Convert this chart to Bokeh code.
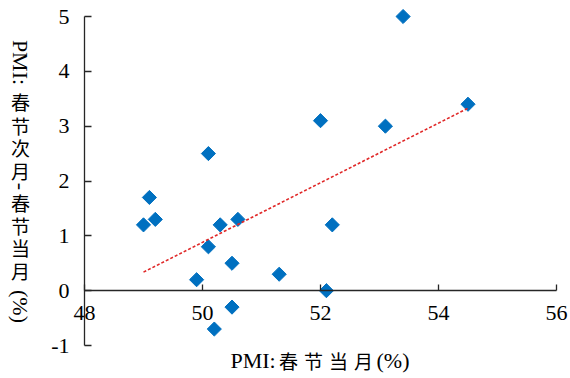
import numpy as np
from bokeh.plotting import figure
from bokeh.models import Label, Range1d, FixedTicker
from bokeh.embed import file_html
from bokeh.resources import INLINE

# ---- data ----
pmi_current = [49.0, 49.1, 49.2, 49.9, 50.1, 50.1, 50.2, 50.3, 50.5, 50.5,
               50.6, 51.3, 52.0, 52.1, 52.2, 53.1, 53.4, 54.5]
pmi_change = [1.2, 1.7, 1.3, 0.2, 2.5, 0.8, -0.7, 1.2, 0.5, -0.3,
              1.3, 0.3, 3.1, 0.0, 1.2, 3.0, 5.0, 3.4]
x_ticks = [48, 50, 52, 54, 56]
y_ticks = [-1, 0, 1, 2, 3, 4, 5]
x_title = ["PMI:", "春", "节", "当", "月", "(%)"]
y_title = ["PMI:", "春", "节", "次", "月", "-", "春", "节", "当", "月", "(%)"]

# ---- layout (pixels) ----
W, H = 570, 378
AX_LEFT, AX_RIGHT = 84, 556      # pixel of x = 48 and x = 56
AX_TOP, AX_BOTTOM = 16, 345      # pixel of y = 5 and y = -1
XMIN, XMAX = x_ticks[0], x_ticks[-1]
YMIN, YMAX = y_ticks[0], y_ticks[-1]
xs = (AX_RIGHT - AX_LEFT) / (XMAX - XMIN)
ys = (AX_BOTTOM - AX_TOP) / (YMAX - YMIN)
x0 = XMIN - AX_LEFT / xs
y1 = YMAX + AX_TOP / ys

SERIF = "Liberation Serif"
CJK = "Noto Sans CJK SC"
AXIS_COLOR = "#262626"

p = figure(width=W, height=H, min_border=0,
           x_range=Range1d(x0, x0 + W / xs), y_range=Range1d(y1 - H / ys, y1),
           output_backend="svg", toolbar_location=None)
p.outline_line_color = None
p.xgrid.grid_line_color = None
p.ygrid.grid_line_color = None
p.background_fill_color = "white"
p.border_fill_color = "white"

# x axis sits on y = 0, spanning 48..56
xa = p.xaxis[0]
xa.fixed_location = 0
xa.bounds = (XMIN, XMAX)
xa.ticker = FixedTicker(ticks=x_ticks)
xa.minor_tick_line_color = None
xa.major_tick_in = 6
xa.major_tick_out = 0
xa.axis_line_color = AXIS_COLOR
xa.axis_line_width = 1.3
xa.major_tick_line_color = AXIS_COLOR
xa.major_tick_line_width = 1.3
xa.major_label_standoff = 15
xa.major_label_text_font = SERIF
xa.major_label_text_font_size = "22px"
xa.major_label_text_color = "black"

# y axis sits on x = 48, spanning -1..5
ya = p.yaxis[0]
ya.fixed_location = XMIN
ya.bounds = (YMIN, YMAX)
ya.ticker = FixedTicker(ticks=y_ticks)
ya.major_label_overrides = {t: str(t) for t in y_ticks}
ya.minor_tick_line_color = None
ya.major_tick_in = 7
ya.major_tick_out = 0
ya.axis_line_color = AXIS_COLOR
ya.axis_line_width = 1.3
ya.major_tick_line_color = AXIS_COLOR
ya.major_tick_line_width = 1.3
ya.major_label_standoff = 15
ya.major_label_text_font = SERIF
ya.major_label_text_font_size = "22px"
ya.major_label_text_color = "black"

# points
p.scatter(pmi_current, pmi_change, marker="square", size=10, angle=np.pi / 4,
          fill_color="#0070C0", line_color="#0070C0")

# linear trend line over the data span
slope, intercept = np.polyfit(pmi_current, pmi_change, 1)
tx = np.array([min(pmi_current), max(pmi_current)])
p.line(tx, slope * tx + intercept, line_color="#E02828", line_width=1.6,
       line_dash="3 2")

# x axis title (pieces: latin in serif, CJK in CJK font)
x_offsets = [146, 204, 229, 254, 279, 292]
for t, off in zip(x_title, x_offsets):
    is_cjk = t in "春节当月次"
    p.add_layout(Label(x=XMIN, y=YMIN, x_offset=off, y_offset=-15, text=t,
                       text_font=CJK if is_cjk else SERIF,
                       text_font_size="19px" if is_cjk else "22px",
                       text_align="center" if is_cjk else "left",
                       text_baseline="middle", text_color="black"))

# y axis title: East-Asian vertical text, latin parts rotated
y_offsets = [46, 85, 109, 131, 154, 170, 186, 209, 231, 254, 290]
for t, off in zip(y_title, y_offsets):
    is_cjk = t in "春节当月次"
    p.add_layout(Label(x=XMIN, y=YMAX, x_offset=-64, y_offset=-off, text=t,
                       text_font=CJK if is_cjk else SERIF,
                       text_font_size="19px" if is_cjk else "22px",
                       angle=0 if is_cjk else -np.pi / 2,
                       text_align="center", text_baseline="middle",
                       text_color="black"))

open("out.html", "w").write(file_html(p, INLINE))
